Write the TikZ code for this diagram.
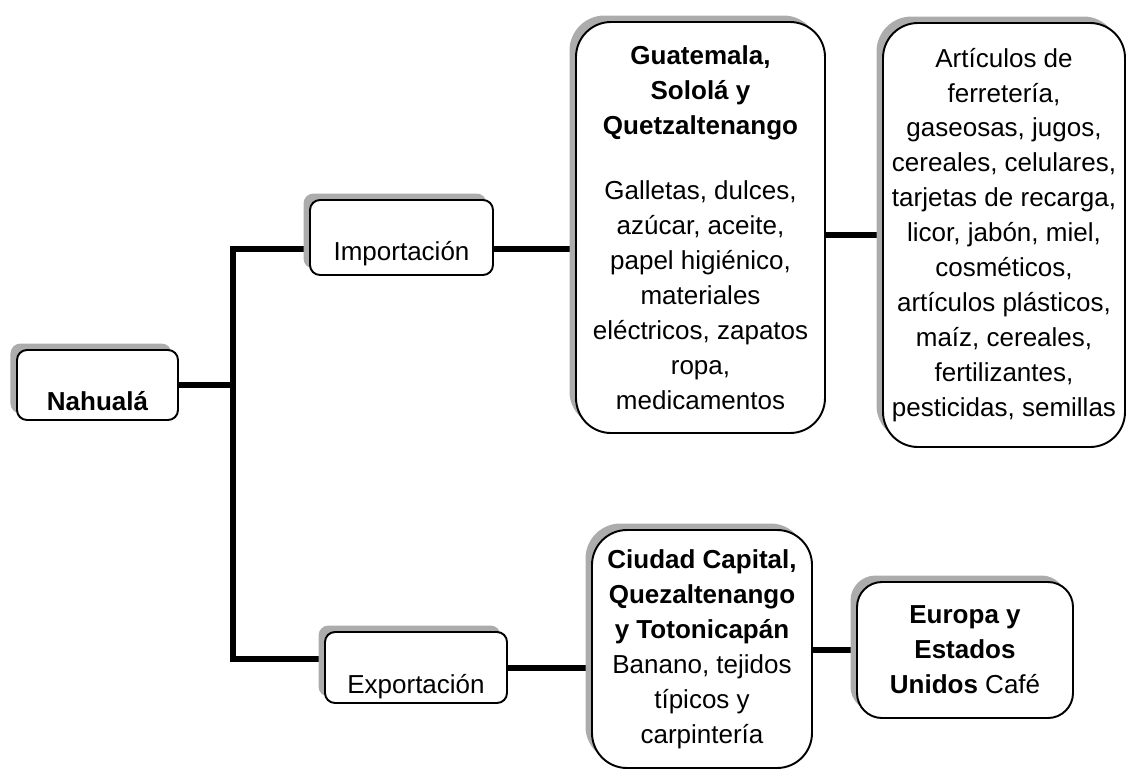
\documentclass[tikz,border=0pt]{standalone}
\usepackage{fontspec}
\setmainfont{Liberation Sans}
\usetikzlibrary{shadows,backgrounds}

\begin{document}
\begin{tikzpicture}[
        box/.style={draw, line width=1.1pt, fill=white, align=center,
            font=\fontsize{14.8}{19.9}\selectfont,
            general shadow={shadow xshift=-0.13cm, shadow yshift=0.13cm, fill=gray!65}},
        smallbox/.style={box, rounded corners=0.2cm, inner ysep=0pt},
        bigbox/.style={box, rounded corners=0.7cm},
        link/.style={line width=3.4pt}]
        \useasboundingbox (0,0) rectangle (22.54,-15.52);
        \draw (1.95,-7.70)   node[smallbox, minimum width=3.22cm, text height=1.2cm, text depth=0.2cm] (nah) {\textbf{Nahualá}};
        \draw (8.03,-4.75)   node[smallbox, minimum width=3.66cm, text height=1.2cm, text depth=0.3cm] (imp) {Importación};
        \draw (8.32,-13.35)  node[smallbox, minimum width=3.64cm, text height=1.22cm, text depth=0.2cm] (exp) {Exportación};
        \draw (14.01,-4.55)  node[bigbox, minimum width=4.98cm, minimum height=8.22cm] (gua)
              {\textbf{Guatemala,}\\ \textbf{Sololá y}\\ \textbf{Quetzaltenango}\\[0.6cm]
               Galletas, dulces,\\ azúcar, aceite,\\ papel higiénico,\\ materiales\\
               eléctricos, zapatos\\ ropa,\\ medicamentos};
        \draw (20.08,-4.70)  node[bigbox, minimum width=4.84cm, minimum height=8.48cm] (art)
              {Artículos de\\ ferretería,\\ gaseosas, jugos,\\ cereales, celulares,\\
               tarjetas de recarga,\\ licor, jabón, miel,\\ cosméticos,\\ artículos plásticos,\\
               maíz, cereales,\\ fertilizantes,\\ pesticidas, semillas};
        \draw (14.04,-12.98) node[bigbox, minimum width=4.40cm, minimum height=4.76cm] (ciu)
              {\textbf{Ciudad Capital,}\\ \textbf{Quezaltenango}\\ \textbf{y Totonicapán}\\
               Banano, tejidos\\ típicos y\\ carpintería};
        \draw (19.30,-13.00) node[box, rounded corners=0.5cm, minimum width=4.32cm, minimum height=2.72cm] (eur)
              {\textbf{Europa y}\\ \textbf{Estados}\\ \textbf{Unidos} Café};
        \coordinate (top) at (4.66,-4.98);
        \coordinate (bot) at (4.66,-13.18);
        \begin{scope}[on background layer]
        \draw[link] (top -| imp.west) -- (top) -- (bot) -- (bot -| exp.west)
              (nah.east) -- (nah.east -| top)
              (top -| imp.east) -- (top -| gua.west)
              (exp.east) -- (exp.east -| ciu.west)
              (art.west -| gua.east) -- (art.west)
              (eur.west -| ciu.east) -- (eur.west);
        \end{scope}
    \end{tikzpicture}
\end{document}
